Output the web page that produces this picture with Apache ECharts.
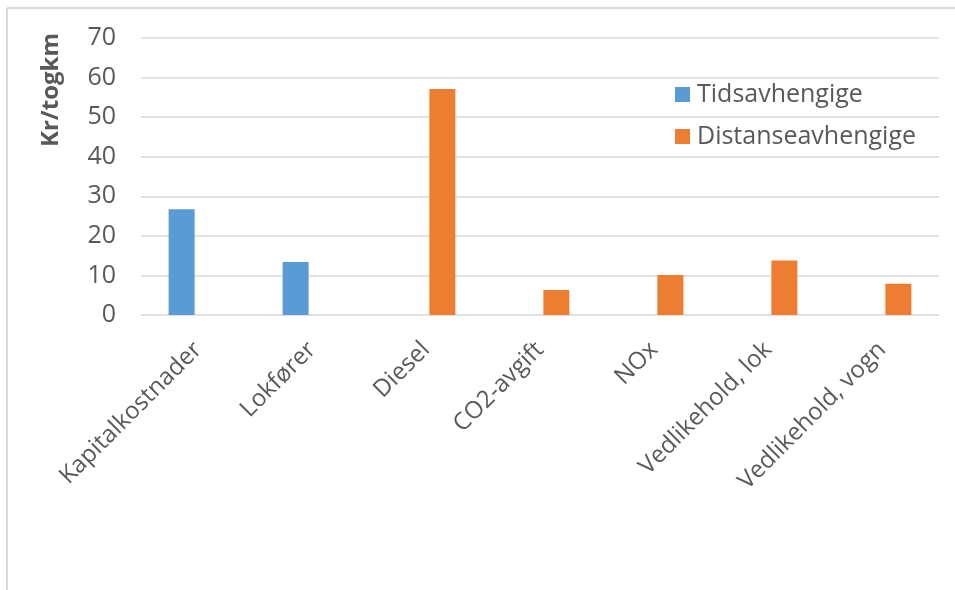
<!DOCTYPE html>
<html>
<head>
<meta charset="utf-8">
<script src="https://cdn.jsdelivr.net/npm/echarts@6/dist/echarts.min.js"></script>
<style>
  html, body { margin: 0; padding: 0; background: #fff; }
  #chart { width: 955px; height: 590px; }
</style>
</head>
<body>
<div id="chart"></div>
<script>
// Kostnadskomponenter per togkm
const categories = ['Kapitalkostnader', 'Lokfører', 'Diesel', 'CO2-avgift', 'NOx', 'Vedlikehold, lok', 'Vedlikehold, vogn'];
const tidsavhengige = [26.7, 13.4, null, null, null, null, null];
const distanseavhengige = [null, null, 57.1, 6.3, 10.1, 13.8, 7.9];
const seriesNames = ['Tidsavhengige', 'Distanseavhengige'];
const yAxisName = 'Kr/togkm';

const textColor = '#595959';
const gridColor = '#d9d9d9';
const fontFamily = '"Open Sans", "Noto Sans", sans-serif';

const chart = echarts.init(document.getElementById('chart'), null, { renderer: 'canvas' });

chart.setOption({
  backgroundColor: '#fff',
  animation: false,
  textStyle: { fontFamily: fontFamily },
  grid: { left: 141, right: 16, top: 38, bottom: 275 },
  legend: {
    orient: 'vertical',
    left: 675,
    top: 82,
    padding: 0,
    itemWidth: 15,
    itemHeight: 15,
    itemGap: 17,
    icon: 'rect',
    textStyle: { fontSize: 25, color: textColor, fontFamily: fontFamily, padding: [0, 0, 0, 2] },
    data: seriesNames
  },
  xAxis: {
    type: 'category',
    data: categories,
    axisLine: { show: false },
    axisTick: { show: false },
    axisLabel: {
      interval: 0,
      rotate: 45,
      margin: 31,
      fontSize: 24,
      color: textColor,
      fontFamily: fontFamily
    }
  },
  yAxis: {
    type: 'value',
    min: 0,
    max: 70,
    interval: 10,
    axisLabel: { fontSize: 25, color: textColor, margin: 25, fontFamily: fontFamily },
    splitLine: { lineStyle: { color: gridColor, width: 1.5 } },
    axisLine: { show: false },
    axisTick: { show: false }
  },
  series: [
    {
      name: seriesNames[0],
      type: 'bar',
      data: tidsavhengige,
      barWidth: 26,
      barGap: '26%',
      itemStyle: { color: '#5b9bd5' }
    },
    {
      name: seriesNames[1],
      type: 'bar',
      data: distanseavhengige,
      barWidth: 26,
      barGap: '26%',
      itemStyle: { color: '#ed7d31' }
    }
  ],
  graphic: [
    { type: 'line', shape: { x1: 7, y1: 8, x2: 955, y2: 8 }, style: { stroke: gridColor, lineWidth: 2 } },
    { type: 'line', shape: { x1: 7, y1: 8, x2: 7, y2: 590 }, style: { stroke: gridColor, lineWidth: 2 } },
    {
      type: 'text',
      x: 51,
      y: 90,
      rotation: Math.PI / 2,
      style: {
        text: yAxisName,
        fontSize: 24,
        fontWeight: 'bold',
        fontFamily: fontFamily,
        fill: textColor,
        align: 'center',
        verticalAlign: 'middle'
      }
    }
  ]
});
</script>
</body>
</html>
